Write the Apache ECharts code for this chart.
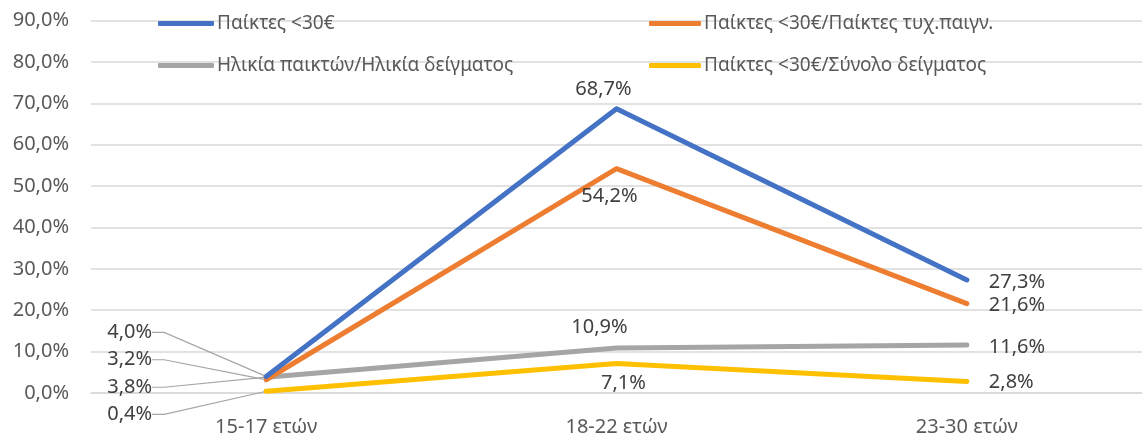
<!DOCTYPE html>
<html>
<head>
<meta charset="utf-8">
<script src="https://cdn.jsdelivr.net/npm/echarts@6/dist/echarts.min.js"></script>
<style>html,body{margin:0;padding:0;background:#fff}#c{width:1142px;height:437px}</style>
</head>
<body>
<div id="c"></div>
<script>
const categories = ['15-17 ετών', '18-22 ετών', '23-30 ετών'];
const seriesNames = ['Παίκτες <30€', 'Παίκτες <30€/Παίκτες τυχ.παιγν.', 'Ηλικία παικτών/Ηλικία δείγματος', 'Παίκτες <30€/Σύνολο δείγματος'];
const playersUnder30 = [4.0, 68.7, 27.3];
const ratioGamblers = [3.2, 54.2, 21.6];
const ratioAge = [3.8, 10.9, 11.6];
const ratioSample = [0.4, 7.1, 2.8];
const yTicks = [0, 10, 20, 30, 40, 50, 60, 70, 80, 90];

const colors = ['#4472C4', '#ED7D31', '#A5A5A5', '#FFC000'];
const FONT = 'Noto Sans';
const fmt = v => v.toFixed(1).replace('.', ',') + '%';

// label placement relative to each point: [dx, dy] of label centre (middle) / left edge (right)
const midLabelShift = [[-13, -19], [-7, 28], [-17, -21], [7, 20]];
const rightLabelDy = [2, 2, 2, 1];
const leftDy = [-44, -20, 10, 23];

function buildData(values, si) {
  return values.map((v, i) => ({
    value: v,
    labelLine: { show: i === 0 }
  }));
}

const allValues = [playersUnder30, ratioGamblers, ratioAge, ratioSample];

const chart = echarts.init(document.getElementById('c'), null, { renderer: 'canvas' });
chart.setOption({
  animation: false,
  textStyle: { fontFamily: FONT },
  grid: { left: 91, right: -8, top: 20.5, bottom: 43, containLabel: false },
  legend: [
    {
      data: [seriesNames[0], seriesNames[2]],
      orient: 'vertical', left: 153, top: 9, itemGap: 23,
      itemWidth: 56, itemHeight: 5, icon: 'roundRect',
      textStyle: { fontFamily: FONT, fontSize: 19, color: '#595959', padding: [0, 0, 0, -2] }
    },
    {
      data: [seriesNames[1], seriesNames[3]],
      orient: 'vertical', left: 644, top: 9, itemGap: 23,
      itemWidth: 52, itemHeight: 5, icon: 'roundRect',
      textStyle: { fontFamily: FONT, fontSize: 19, color: '#595959', padding: [0, 0, 0, -2] }
    }
  ],
  xAxis: {
    type: 'category', data: categories, boundaryGap: true,
    axisLine: { show: true, lineStyle: { color: '#D9D9D9', width: 1.5 } },
    axisTick: { show: false },
    axisLabel: { fontFamily: FONT, fontSize: 20, color: '#595959', margin: 24 }
  },
  yAxis: {
    type: 'value', min: yTicks[0], max: yTicks[yTicks.length - 1], interval: 10,
    axisLine: { show: false }, axisTick: { show: false },
    splitLine: { lineStyle: { color: '#D9D9D9', width: 1.5 } },
    axisLabel: { fontFamily: FONT, fontSize: 20, color: '#595959', margin: 22, formatter: v => v.toFixed(1).replace('.', ',') + '%' }
  },
  series: allValues.map((vals, si) => ({
    name: seriesNames[si],
    type: 'line',
    data: buildData(vals, si),
    color: colors[si],
    symbol: 'circle', symbolSize: 4, showSymbol: true,
    lineStyle: { width: 5, color: colors[si], cap: 'round', join: 'round' },
    itemStyle: { color: colors[si] },
    z: 10 - si,
    label: {
      show: true, fontFamily: FONT, fontSize: 20, color: '#404040',
      formatter: p => fmt(p.value)
    },
    labelLine: { show: false, length2: 12, lineStyle: { color: '#A5A5A5', width: 1.2 } },
    labelLayout: function (params) {
      const r = params.rect;
      const cx = r.x + r.width / 2, cy = r.y + r.height / 2;
      if (params.dataIndex === 0) {
        return { x: cx - 114, y: cy + leftDy[si], align: 'right', verticalAlign: 'middle' };
      }
      if (params.dataIndex === 1) {
        const s = midLabelShift[si];
        return { x: cx + s[0], y: cy + s[1], align: 'center', verticalAlign: 'middle' };
      }
      return { x: cx + 22, y: cy + rightLabelDy[si], align: 'left', verticalAlign: 'middle' };
    }
  }))
});
</script>
</body>
</html>
